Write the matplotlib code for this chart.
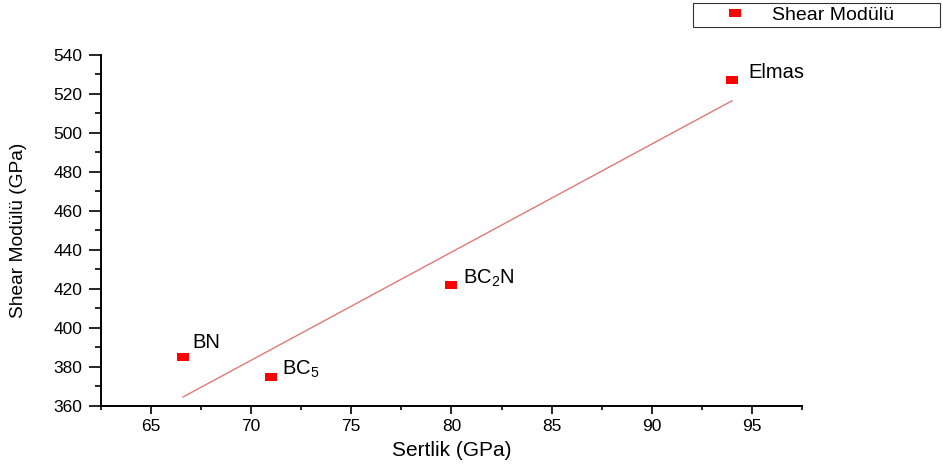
import numpy as np
import matplotlib
matplotlib.use("Agg")
import matplotlib.pyplot as plt
from matplotlib.ticker import MultipleLocator

plt.rcParams['font.family'] = ['Liberation Sans', 'DejaVu Sans']
plt.rcParams['mathtext.fontset'] = 'custom'
plt.rcParams['mathtext.rm'] = 'Liberation Sans'
plt.rcParams['mathtext.it'] = 'Liberation Sans'
plt.rcParams['mathtext.default'] = 'regular'

materials = ["BN", r"BC$_5$", r"BC$_2$N", "Elmas"]
hardness = [66.6, 71.0, 80.0, 94.0]        # Sertlik (GPa)
shear_mod = [385.0, 375.0, 422.0, 527.0]   # Shear Modülü (GPa)
label_offsets = [(6.5, 7), (8, 1.5), (8.5, 1), (12, 1.5)]

fig = plt.figure(figsize=(9.43, 4.68), dpi=100)
ax = fig.add_axes([0.107, 0.1325, 0.7435, 0.75])

rect = [(-1.5, -0.9), (1.5, -0.9), (1.5, 0.9), (-1.5, 0.9)]
ax.plot(hardness, shear_mod, linestyle="none", marker=rect, markersize=9,
        color="#ff0000", markeredgewidth=0, label="Shear Modülü", zorder=3)

# linear fit across the data range
slope, intercept = np.polyfit(hardness, shear_mod, 1)
xf = np.array([min(hardness), max(hardness)])
ax.plot(xf, slope * xf + intercept, color="#e07878", linewidth=1.0, zorder=2)

for name, x, y, off in zip(materials, hardness, shear_mod, label_offsets):
    ax.annotate(name, (x, y), xytext=off, textcoords="offset points",
                fontsize=14.5, ha="left", va="baseline")

ax.set_xlim(62.5, 97.5)
ax.set_ylim(360, 540)
ax.xaxis.set_major_locator(MultipleLocator(5))
ax.xaxis.set_minor_locator(MultipleLocator(2.5))
ax.yaxis.set_major_locator(MultipleLocator(20))
ax.yaxis.set_minor_locator(MultipleLocator(10))
ax.tick_params(which="both", direction="out", width=1.2, labelsize=12.5)
ax.tick_params(axis="x", which="major", length=5.5, pad=4)
ax.tick_params(axis="x", which="minor", length=3)
ax.tick_params(axis="y", which="major", length=8.5, pad=5)
ax.tick_params(axis="y", which="minor", length=4)
for s in ("top", "right"):
    ax.spines[s].set_visible(False)
for s in ("left", "bottom"):
    ax.spines[s].set_linewidth(1.4)

ax.set_xlabel("Sertlik (GPa)", fontsize=15, labelpad=5)
ax.set_ylabel("Shear Modülü (GPa)", fontsize=13.8, va="center")
ax.yaxis.set_label_coords(-0.117, 0.5)

leg = fig.legend(loc="center", bbox_to_anchor=(0.735, 0.942, 0.262, 0.0513),
                 mode="expand", fontsize=14, frameon=True, fancybox=False,
                 handlelength=4.0, borderpad=0.15, handletextpad=-0.1,
                 borderaxespad=0)
leg.get_frame().set_edgecolor("black")
leg.get_frame().set_linewidth(0.8)

fig.savefig("out.png", dpi=100)
